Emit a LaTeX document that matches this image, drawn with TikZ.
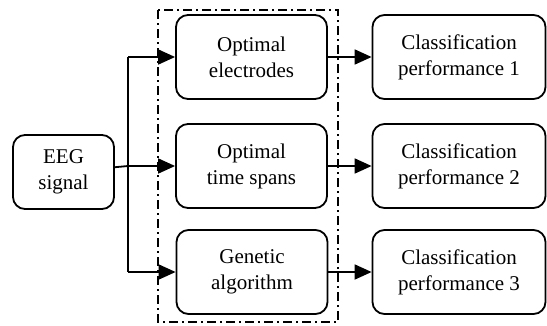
\documentclass[tikz,border=0pt]{standalone}
\usepackage{fontspec}
\setmainfont{Liberation Serif}
\usetikzlibrary{arrows.meta}

\begin{document}
\begin{tikzpicture}[
  x=1pt, y=-1pt,
  block/.style={draw, line width=1.8pt, rounded corners=12pt, align=center,
                inner sep=0pt, font=\fontsize{21}{26}\selectfont},
  src/.style={block, minimum width=101pt, minimum height=74pt},
  method/.style={block, minimum width=151pt, minimum height=84pt},
  result/.style={block, minimum width=173pt, minimum height=84pt},
  link/.style={line width=1.8pt},
  flow/.style={link, -{Triangle[length=17pt, width=15pt]}},
  frame/.style={line width=2pt, dash pattern=on 9pt off 4pt on 2pt off 4pt},
]
  \useasboundingbox (0,0) rectangle (547,325);

  % --- Input ---
  \node[src] (eeg) at (63.5,172) {EEG\\signal};

  % --- Selection methods ---
  \node[method] (m1) at (251.5,57)  {Optimal\\electrodes};
  \node[method] (m2) at (251.5,166) {Optimal\\time spans};
  \node[method] (m3) at (252,272)   {Genetic\\algorithm};

  % --- Results ---
  \node[result] (r1) at (459,57)  {Classification\\performance 1};
  \node[result] (r2) at (459,166) {Classification\\performance 2};
  \node[result] (r3) at (459,272) {Classification\\performance 3};

  % Branch points
  \coordinate (j1) at (128,57);
  \coordinate (j2) at (128,166);
  \coordinate (j3) at (128,272);

  \draw[link] (eeg) -- (j2);
  \draw[link] (j1) -- (j3);
  \draw[flow] (j1) -- (m1);
  \draw[flow] (j2) -- (m2);
  \draw[flow] (j3) -- (m3);

  \draw[flow] (m1) -- (r1);
  \draw[flow] (m2) -- (r2);
  \draw[flow] (m3) -- (r3);

  % Dash-dot frame round the methods
  \draw[frame] (158,10) rectangle (338,322);
\end{tikzpicture}
\end{document}
